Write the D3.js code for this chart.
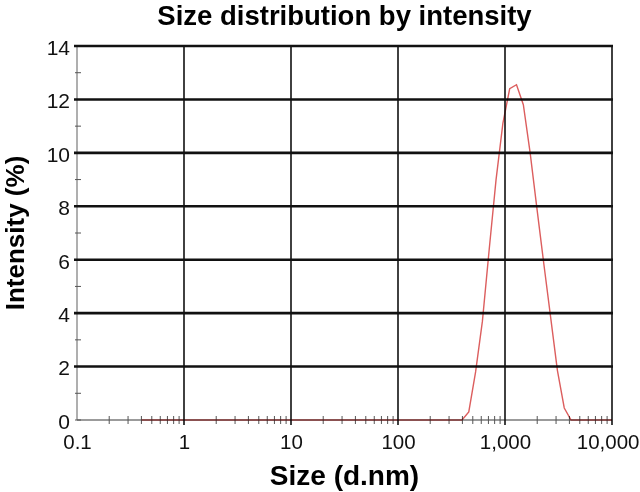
<!DOCTYPE html>
<html>
<head>
<meta charset="utf-8">
<script src="https://cdn.jsdelivr.net/npm/d3@7"></script>
<style>
  body { margin: 0; background: #fff; }
  svg { display: block; font-family: "Liberation Sans", Arial, sans-serif; }
</style>
</head>
<body>
<script>
const WIDTH  = 640;
const HEIGHT = 492;
const LEFT = 77, RIGHT = 612, TOP = 46, BOTTOM = 420;

// size classes (d.nm) and intensity (%)
const sizes = [0.4, 0.4632, 0.5365, 0.6213, 0.7195, 0.8332, 0.9649, 1.117, 1.294, 1.499,
  1.736, 2.010, 2.328, 2.696, 3.122, 3.615, 4.187, 4.849, 5.615, 6.503,
  7.531, 8.721, 10.10, 11.70, 13.54, 15.69, 18.17, 21.04, 24.36, 28.21,
  32.67, 37.84, 43.82, 50.75, 58.77, 68.06, 78.82, 91.28, 105.7, 122.4,
  141.8, 164.2, 190.1, 220.2, 255.0, 295.3, 342.0, 396.1, 458.7, 531.2,
  615.1, 712.4, 825.0, 955.4, 1106, 1281, 1484, 1718, 1990, 2305,
  2669, 3091, 3580, 4145, 4801, 5560, 6439, 7456, 8635, 10000];
const intensity = [0, 0, 0, 0, 0, 0, 0, 0, 0, 0,
  0, 0, 0, 0, 0, 0, 0, 0, 0, 0,
  0, 0, 0, 0, 0, 0, 0, 0, 0, 0,
  0, 0, 0, 0, 0, 0, 0, 0, 0, 0,
  0, 0, 0, 0, 0, 0, 0, 0, 0.3, 1.8,
  3.7, 6.4, 9.0, 11.1, 12.4, 12.55, 11.8, 10.0, 7.9, 5.85,
  3.85, 1.85, 0.45, 0, 0, 0, 0, 0, 0, 0];

const xTicks      = [0.1, 1, 10, 100, 1000, 10000];
const xTickLabels = ["0.1", "1", "10", "100", "1,000", "10,000"];
const yTicks      = [0, 2, 4, 6, 8, 10, 12, 14];
const yMinor      = [1, 3, 5, 7, 9, 11, 13];

function setUpChart() {
  const svg = d3.select("body").append("svg")
      .attr("width", WIDTH)
      .attr("height", HEIGHT);

  svg.append("text")
      .attr("x", (LEFT + RIGHT) / 2)
      .attr("y", 25)
      .attr("text-anchor", "middle")
      .style("font-size", "27.5px")
      .style("font-weight", "bold")
      .text("Size distribution by intensity");

  svg.append("text")
      .attr("x", (LEFT + RIGHT) / 2)
      .attr("y", 485)
      .attr("text-anchor", "middle")
      .style("font-size", "28px")
      .style("font-weight", "bold")
      .text("Size (d.nm)");

  svg.append("text")
      .attr("transform", "translate(24," + 233 + ") rotate(-90)")
      .attr("text-anchor", "middle")
      .style("font-size", "26px")
      .style("font-weight", "bold")
      .text("Intensity (%)");

  return svg;
}

function setScale() {
  const xScale = d3.scaleLog().domain([0.1, 10000]).range([LEFT, RIGHT]);
  const yScale = d3.scaleLinear().domain([0, 14]).range([BOTTOM, TOP]);
  return [xScale, yScale];
}

function addAxis(svg, xScale, yScale) {
  // minor ticks on x: 2..9 of every decade
  const xMinor = [];
  xTicks.slice(0, -1).forEach(dec => {
    for (let k = 2; k <= 9; k++) xMinor.push(dec * k);
  });

  // gray axis lines
  svg.append("line")
      .attr("x1", xScale(0.1)).attr("x2", xScale(10000))
      .attr("y1", yScale(0)).attr("y2", yScale(0))
      .attr("stroke", "#7a7a7a").attr("stroke-width", 1.3);
  svg.append("line")
      .attr("x1", xScale(0.1)).attr("x2", xScale(0.1))
      .attr("y1", yScale(0)).attr("y2", yScale(14))
      .attr("stroke", "#7a7a7a").attr("stroke-width", 1.2);

  svg.append("g").selectAll("line")
      .data(xMinor)
      .enter().append("line")
        .attr("x1", d => xScale(d)).attr("x2", d => xScale(d))
        .attr("y1", yScale(0) - 4).attr("y2", yScale(0) + 4)
        .attr("stroke", "#555").attr("stroke-width", 1);

  svg.append("g").selectAll("line")
      .data(yMinor.concat([0]))
      .enter().append("line")
        .attr("x1", xScale(0.1) - 2).attr("x2", xScale(0.1) + 4)
        .attr("y1", d => yScale(d)).attr("y2", d => yScale(d))
        .attr("stroke", "#555").attr("stroke-width", 1);

  // vertical grid at decades
  svg.append("g").selectAll("line")
      .data(xTicks.slice(1))
      .enter().append("line")
        .attr("x1", d => xScale(d)).attr("x2", d => xScale(d))
        .attr("y1", yScale(14)).attr("y2", yScale(0) + 5)
        .attr("stroke", "#111").attr("stroke-width", 1.6);

  // horizontal grid
  svg.append("g").selectAll("line")
      .data(yTicks.slice(1))
      .enter().append("line")
        .attr("x1", xScale(0.1) - 3).attr("x2", xScale(10000) + 1)
        .attr("y1", d => yScale(d)).attr("y2", d => yScale(d))
        .attr("stroke", "#111").attr("stroke-width", 2.6);

  // tick labels through d3 axes
  const xAxis = d3.axisBottom(xScale)
      .tickValues(xTicks)
      .tickFormat((d, i) => xTickLabels[i])
      .tickSize(0).tickPadding(14);
  const gx = svg.append("g")
      .attr("transform", "translate(0," + yScale(0) + ")")
      .call(xAxis);
  gx.select(".domain").remove();
  gx.selectAll("text").style("font-size", "20.5px").attr("fill", "#111")
      .style("font-family", "'Liberation Sans', Arial, sans-serif");
  // last label sits against the page edge, as in the original
  gx.selectAll(".tick").filter(d => d === 10000).select("text")
      .attr("text-anchor", "end").attr("x", 27);

  const yAxis = d3.axisLeft(yScale)
      .tickValues(yTicks)
      .tickSize(0).tickPadding(7);
  const gy = svg.append("g")
      .attr("transform", "translate(" + xScale(0.1) + ",0)")
      .call(yAxis);
  gy.select(".domain").remove();
  gy.selectAll("text").style("font-size", "21px").attr("fill", "#111")
      .attr("dy", "0.4em")
      .style("font-family", "'Liberation Sans', Arial, sans-serif");
}

function drawChart(svg, xScale, yScale) {
  const line = d3.line()
      .x((d, i) => xScale(sizes[i]))
      .y(d => yScale(d));

  svg.append("path")
      .datum(intensity)
      .attr("d", line)
      .attr("fill", "none")
      .attr("stroke", "#dc5e5e")
      .attr("stroke-width", 1.4)
      .style("mix-blend-mode", "multiply");
}

const canvas = setUpChart();
const [xScale, yScale] = setScale();
addAxis(canvas, xScale, yScale);
drawChart(canvas, xScale, yScale);
</script>
</body>
</html>
